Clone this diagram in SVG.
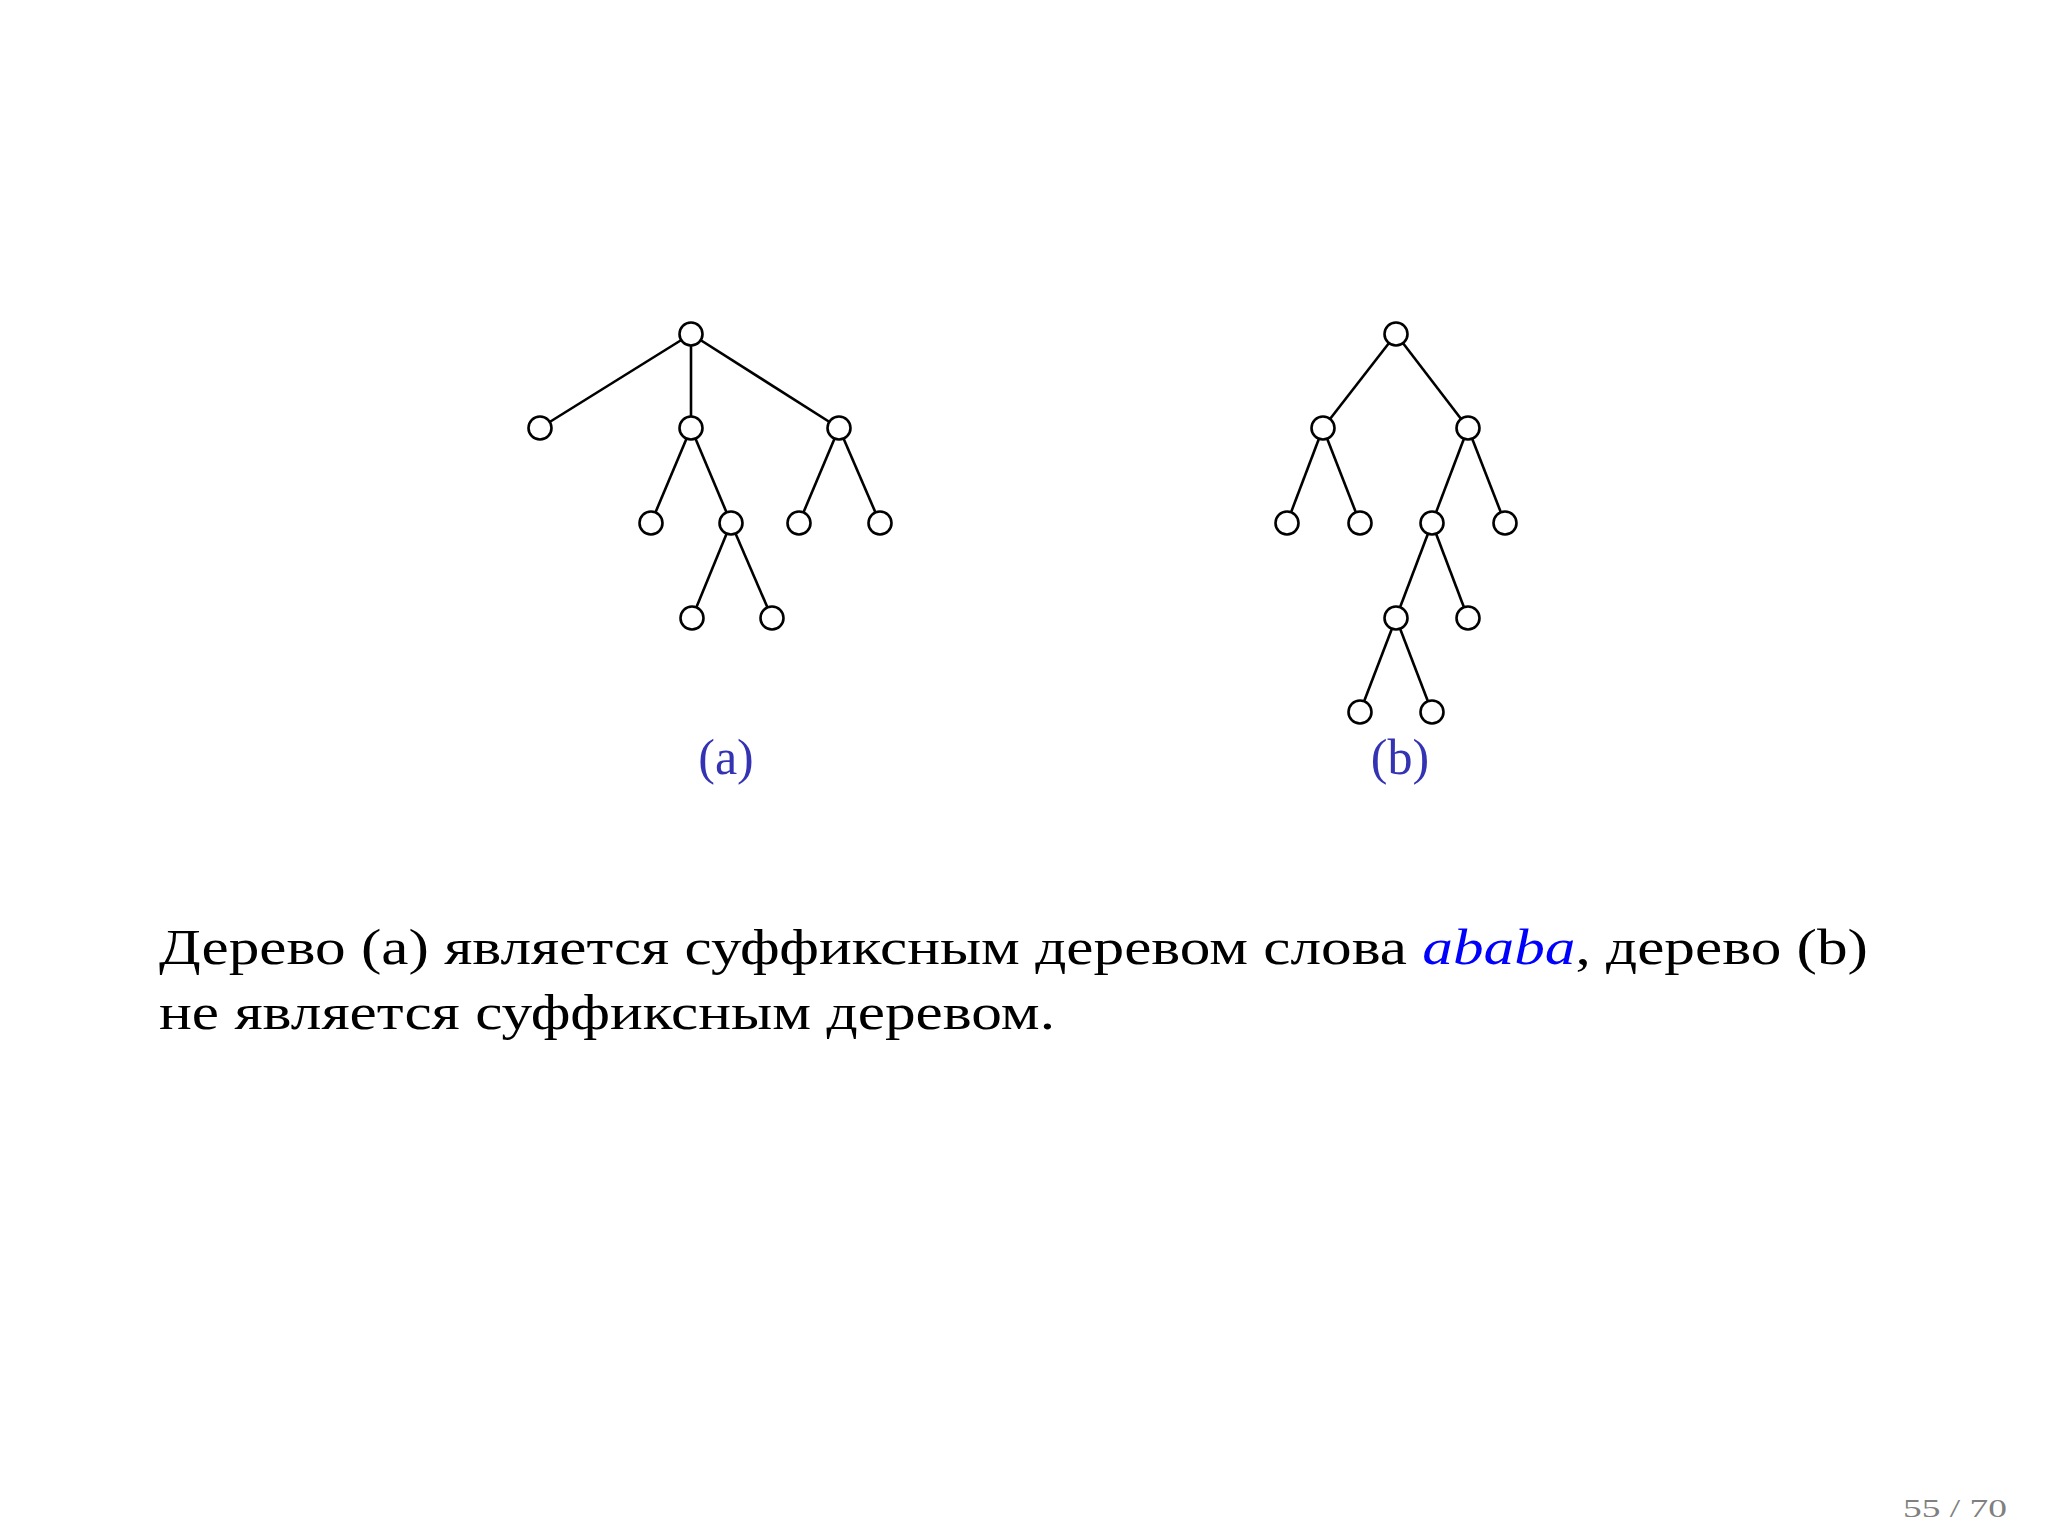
<svg xmlns="http://www.w3.org/2000/svg" width="2048" height="1536" viewBox="0 0 2048 1536">
<style>
.edge{stroke:#000;stroke-width:2.6;fill:none}
.node{fill:#fff;stroke:#000;stroke-width:2.6}
.txt{font-family:"Liberation Serif","DejaVu Serif",serif;font-size:50px;fill:#000}
.lbl{font-family:"Liberation Serif","DejaVu Serif",serif;font-size:50px;fill:#3333b3}
.pg{font-family:"Liberation Serif","DejaVu Serif",serif;font-size:26px;fill:#808080}
</style>
<rect width="2048" height="1536" fill="#fff"/>
<g id="connectors">
<line class="edge" x1="691" y1="334" x2="540" y2="428"/>
<line class="edge" x1="691" y1="334" x2="691" y2="428"/>
<line class="edge" x1="691" y1="334" x2="839" y2="428"/>
<line class="edge" x1="691" y1="428" x2="651" y2="523"/>
<line class="edge" x1="691" y1="428" x2="731" y2="523"/>
<line class="edge" x1="839" y1="428" x2="799" y2="523"/>
<line class="edge" x1="839" y1="428" x2="880" y2="523"/>
<line class="edge" x1="731" y1="523" x2="692" y2="618"/>
<line class="edge" x1="731" y1="523" x2="772" y2="618"/>
<line class="edge" x1="1396" y1="334" x2="1323" y2="428"/>
<line class="edge" x1="1396" y1="334" x2="1468" y2="428"/>
<line class="edge" x1="1323" y1="428" x2="1287" y2="523"/>
<line class="edge" x1="1323" y1="428" x2="1360" y2="523"/>
<line class="edge" x1="1468" y1="428" x2="1432" y2="523"/>
<line class="edge" x1="1468" y1="428" x2="1505" y2="523"/>
<line class="edge" x1="1432" y1="523" x2="1396" y2="618"/>
<line class="edge" x1="1432" y1="523" x2="1468" y2="618"/>
<line class="edge" x1="1396" y1="618" x2="1360" y2="712"/>
<line class="edge" x1="1396" y1="618" x2="1432" y2="712"/>
</g>
<g id="tree-a">
<circle id="a0" class="node" cx="691" cy="334" r="11.5"/>
<circle id="a1" class="node" cx="540" cy="428" r="11.5"/>
<circle id="a2" class="node" cx="691" cy="428" r="11.5"/>
<circle id="a3" class="node" cx="839" cy="428" r="11.5"/>
<circle id="a4" class="node" cx="651" cy="523" r="11.5"/>
<circle id="a5" class="node" cx="731" cy="523" r="11.5"/>
<circle id="a6" class="node" cx="799" cy="523" r="11.5"/>
<circle id="a7" class="node" cx="880" cy="523" r="11.5"/>
<circle id="a8" class="node" cx="692" cy="618" r="11.5"/>
<circle id="a9" class="node" cx="772" cy="618" r="11.5"/>
</g>
<g id="tree-b">
<circle id="b0" class="node" cx="1396" cy="334" r="11.5"/>
<circle id="b1" class="node" cx="1323" cy="428" r="11.5"/>
<circle id="b2" class="node" cx="1468" cy="428" r="11.5"/>
<circle id="b3" class="node" cx="1287" cy="523" r="11.5"/>
<circle id="b4" class="node" cx="1360" cy="523" r="11.5"/>
<circle id="b5" class="node" cx="1432" cy="523" r="11.5"/>
<circle id="b6" class="node" cx="1505" cy="523" r="11.5"/>
<circle id="b7" class="node" cx="1396" cy="618" r="11.5"/>
<circle id="b8" class="node" cx="1468" cy="618" r="11.5"/>
<circle id="b9" class="node" cx="1360" cy="712" r="11.5"/>
<circle id="b10" class="node" cx="1432" cy="712" r="11.5"/>
</g>
<g id="labels">
<text class="lbl" x="726" y="774" text-anchor="middle">(a)</text>
<text class="lbl" x="1400" y="774" text-anchor="middle">(b)</text>
</g>
<g id="caption">
<text class="txt" x="159" y="964" textLength="1709" lengthAdjust="spacingAndGlyphs">Дерево (a) является суффиксным деревом слова <tspan fill="#0000ff" font-style="italic">ababa</tspan>, дерево (b)</text>
<text class="txt" x="159" y="1029" textLength="896" lengthAdjust="spacingAndGlyphs">не является суффиксным деревом.</text>
</g>
<text class="pg" x="1903" y="1517" textLength="104" lengthAdjust="spacingAndGlyphs">55 / 70</text>
</svg>
